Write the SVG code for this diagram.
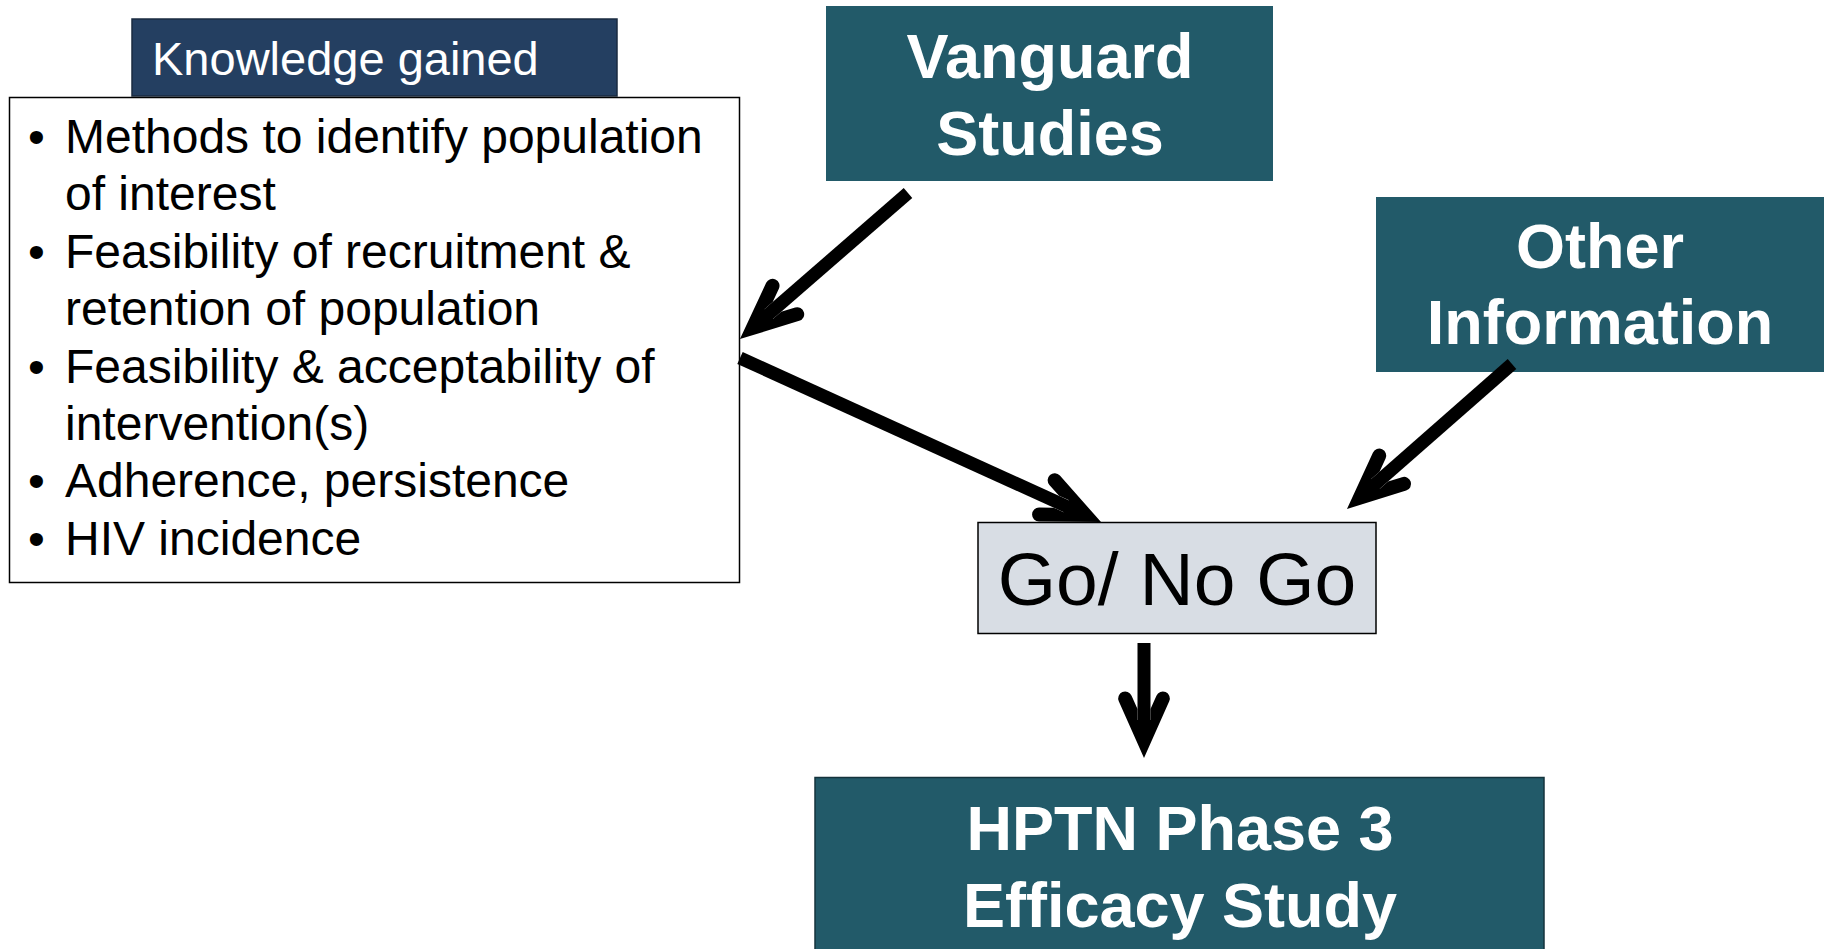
<svg xmlns="http://www.w3.org/2000/svg" width="1831" height="949" viewBox="0 0 1831 949">
<style>
.teal{fill:#225A69}
.wt{fill:#ffffff;font-family:"Liberation Sans",Arial,sans-serif;font-weight:bold;font-size:63px;text-anchor:middle}
.bt{fill:#000000;font-family:"Liberation Sans",Arial,sans-serif;font-size:48px}
.conn{stroke:#000;stroke-width:13;fill:none;stroke-linecap:butt;marker-end:url(#head)}
</style>
<defs>
<marker id="head" markerUnits="userSpaceOnUse" orient="auto" refX="0" refY="0" markerWidth="100" markerHeight="100" overflow="visible">
<path d="M30,0 L-26.64,-25.22 A7,7 0 0 0 -32.34,-12.43 L-19.02,-6.5 L-8,-6.5 L-8,6.5 L-19.02,6.5 L-32.34,12.43 A7,7 0 0 0 -26.64,25.22 Z" fill="#000"/>
</marker>
</defs>
<rect width="1831" height="949" fill="#ffffff"/>
<g id="knowledge-header">
<rect x="132" y="19" width="485" height="77" fill="#243F61" stroke="#1a2b40" stroke-width="1.5"/>
<text x="152" y="75" fill="#ffffff" font-family="'Liberation Sans',Arial,sans-serif" font-size="47">Knowledge gained</text>
</g>
<g id="knowledge-list">
<rect x="9.5" y="97.5" width="730" height="485" fill="#ffffff" stroke="#000" stroke-width="1.5"/>
<text class="bt" x="28" y="153">•</text>
<text class="bt" x="65" y="153">Methods to identify population</text>
<text class="bt" x="65" y="210">of interest</text>
<text class="bt" x="28" y="268">•</text>
<text class="bt" x="65" y="268">Feasibility of recruitment &amp;</text>
<text class="bt" x="65" y="325">retention of population</text>
<text class="bt" x="28" y="383">•</text>
<text class="bt" x="65" y="383">Feasibility &amp; acceptability of</text>
<text class="bt" x="65" y="440">intervention(s)</text>
<text class="bt" x="28" y="497">•</text>
<text class="bt" x="65" y="497">Adherence, persistence</text>
<text class="bt" x="28" y="555">•</text>
<text class="bt" x="65" y="555">HIV incidence</text>
</g>
<g id="vanguard">
<rect class="teal" x="826" y="6" width="447" height="175"/>
<text class="wt" x="1050" y="78">Vanguard</text>
<text class="wt" x="1050" y="155">Studies</text>
</g>
<g id="other-info">
<rect class="teal" x="1376" y="197" width="448" height="175"/>
<text class="wt" x="1600" y="268">Other</text>
<text class="wt" x="1600" y="344">Information</text>
</g>
<g id="go-no-go">
<rect x="978" y="522.5" width="398" height="111" fill="#D8DDE4" stroke="#000" stroke-width="1.5"/>
<text x="1177" y="605" fill="#000" font-family="'Liberation Sans',Arial,sans-serif" font-size="75" text-anchor="middle">Go/ No Go</text>
</g>
<g id="hptn">
<rect class="teal" x="815" y="777.5" width="729" height="185" stroke="#14333c" stroke-width="1.5"/>
<text class="wt" x="1180" y="850">HPTN Phase 3</text>
<text class="wt" x="1180" y="927">Efficacy Study</text>
</g>
<g id="connectors">
<line class="conn" x1="908" y1="193" x2="762.6" y2="319.3"/>
<line class="conn" x1="740" y1="358" x2="1073.7" y2="509.6"/>
<line class="conn" x1="1512" y1="364" x2="1369.5" y2="489.2"/>
<line class="conn" x1="1144" y1="643" x2="1144" y2="728"/>
</g>
</svg>
